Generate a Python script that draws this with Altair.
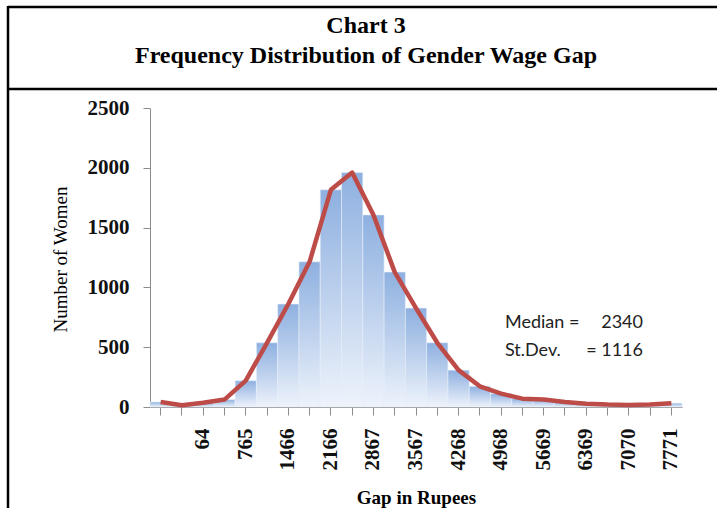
import altair as alt
import pandas as pd

# Number of women in each wage-gap bin (25 equal-width bins, Rs. ~350 wide)
women = [42, 15, 35, 62, 220, 537, 861, 1214, 1816, 1960, 1606, 1128, 827,
         537, 308, 173, 112, 70, 62, 42, 28, 20, 17, 20, 32]

# Labels printed under every second bin, starting from the third one
tick_labels = ["64", "765", "1466", "2166", "2867", "3567", "4268", "4968",
               "5669", "6369", "7070", "7771"]

y_ticks = [0, 500, 1000, 1500, 2000, 2500]

title_lines = ["Chart 3", "Frequency Distribution of Gender Wage Gap"]
stats_names = ["Median =", "St.Dev."]
stats_values = ["2340", "= 1116"]

n_bins = len(women)
bin_text = [""] * n_bins
for k, lab in enumerate(tick_labels):
    bin_text[2 + 2 * k] = lab

df = pd.DataFrame({"bin": list(range(n_bins)), "women": women})

label_expr = "[" + ",".join("'%s'" % t for t in bin_text) + "][datum.value]"

W, H = 532, 299
SERIF = "Liberation Serif"

x_enc = alt.X(
    "bin:O",
    scale=alt.Scale(paddingInner=0, paddingOuter=0),
    axis=alt.Axis(
        title="Gap in Rupees",
        titleFont=SERIF, titleFontSize=19, titleFontWeight="bold",
        titleX=W / 2, titleY=96, titleBaseline="alphabetic", titleColor="black",
        labelExpr=label_expr, labelAngle=270, labelFont=SERIF, labelFontSize=21,
        labelFontWeight="bold", labelColor="#111111", labelPadding=13,
        labelOverlap=False,
        tickSize=8, tickColor="#8c8c8c", domainColor="#8c8c8c",
    ),
)
y_enc = alt.Y(
    "women:Q",
    scale=alt.Scale(domain=[0, 2500], nice=False),
    axis=alt.Axis(
        title="Number of Women", values=y_ticks, grid=False, format="d",
        titleFont=SERIF, titleFontSize=19, titleFontWeight="normal",
        titleAngle=270, titleX=-90, titleY=151, titleAlign="center",
        titleBaseline="middle", titleColor="black",
        labelFont=SERIF, labelFontSize=21, labelFontWeight="bold",
        labelColor="#111111", labelPadding=14,
        tickSize=7, tickColor="#8c8c8c", domainColor="#8c8c8c",
    ),
)

bar_fill = alt.Gradient(
    gradient="linear",
    stops=[alt.GradientStop(color="#eef3fb", offset=0),
           alt.GradientStop(color="#8eb0e0", offset=1)],
    x1=1, x2=1, y1=1, y2=0,
)

base = alt.Chart(df)
bars = base.mark_bar(color=bar_fill, stroke="#e6eef9", strokeWidth=0.6).encode(x=x_enc, y=y_enc)
curve = base.mark_line(color="#bd4c49", strokeWidth=4.5, strokeJoin="round").encode(
    x="bin:O", y="women:Q")

# Title box: outer frame and the rule under the heading
frame = pd.DataFrame({"a": [0]})
top_rule = alt.Chart(frame).mark_rule(color="black", strokeWidth=2.5).encode(
    x=alt.value(-142), x2=alt.value(580), y=alt.value(-101))
mid_rule = alt.Chart(frame).mark_rule(color="black", strokeWidth=2.5).encode(
    x=alt.value(-142), x2=alt.value(580), y=alt.value(-19))
left_rule = alt.Chart(frame).mark_rule(color="black", strokeWidth=2.5).encode(
    x=alt.value(-142), y=alt.value(-102), y2=alt.value(410))


def text_layer(txt, x, y, **kw):
    return alt.Chart(pd.DataFrame({"t": [txt]})).mark_text(**kw).encode(
        x=alt.value(x), y=alt.value(y), text="t:N")


heading = [
    text_layer(title_lines[0], 216, -75, font=SERIF, fontSize=24, fontWeight="bold",
               align="center", baseline="alphabetic", color="black"),
    text_layer(title_lines[1], 216, -45, font=SERIF, fontSize=24, fontWeight="bold",
               align="center", baseline="alphabetic", color="black"),
]
stats_style = dict(font="Lato", fontSize=18, baseline="middle", color="#222222")
stats = [
    text_layer(stats_names[0], 355, 215, align="left", **stats_style),
    text_layer(stats_values[0], 493, 215, align="right", **stats_style),
    text_layer(stats_names[1], 355, 243, align="left", **stats_style),
    text_layer(stats_values[1], 493, 243, align="right", **stats_style),
]

chart = alt.layer(
    bars, curve, top_rule, mid_rule, left_rule, *heading, *stats
).properties(
    width=W, height=H,
    autosize=alt.AutoSizeParams(type="none"),
    padding={"left": 150, "top": 108, "right": 35, "bottom": 101},
    background="white",
).configure_view(stroke=None)

chart.save("out.html", embed_options={"renderer": "svg", "actions": False})
